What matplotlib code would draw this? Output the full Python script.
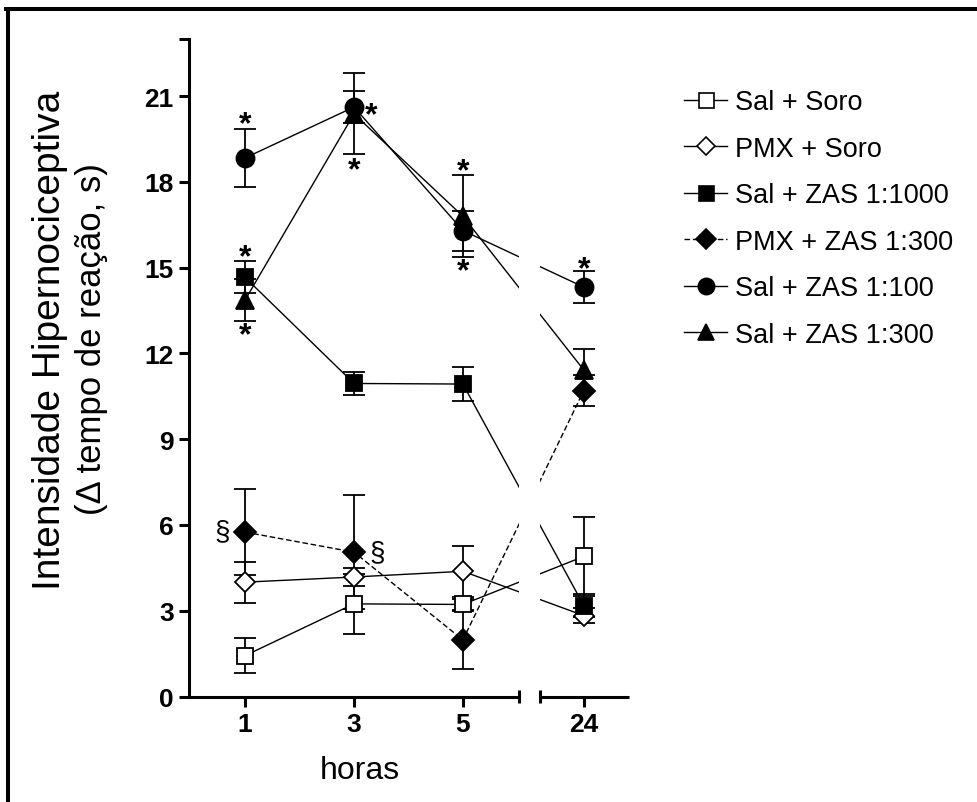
import matplotlib
matplotlib.use("Agg")
import matplotlib.pyplot as plt
from matplotlib.lines import Line2D

plt.rcParams['font.family'] = ['Liberation Sans', 'DejaVu Sans']

# data
hours = [1, 3, 5, 24]
labels = ["Sal + Soro", "PMX + Soro", "Sal + ZAS 1:1000",
          "PMX + ZAS 1:300", "Sal + ZAS 1:100", "Sal + ZAS 1:300"]
sal_soro = [1.43, 3.24, 3.22, 4.90]
sal_soro_err = [0.60, 1.04, 0.20, 1.38]
pmx_soro = [4.00, 4.18, 4.38, 2.83]
pmx_soro_err = [0.72, 0.30, 0.90, 0.25]
sal_zas1000 = [14.66, 10.95, 10.93, 3.18]
sal_zas1000_err = [0.56, 0.41, 0.60, 0.40]
pmx_zas300 = [5.75, 5.05, 1.98, 10.70]
pmx_zas300_err = [1.50, 2.00, 1.02, 0.55]
sal_zas100 = [18.84, 20.62, 16.30, 14.32]
sal_zas100_err = [1.02, 0.56, 0.70, 0.57]
sal_zas300 = [13.87, 20.38, 16.80, 11.42]
sal_zas300_err = [0.72, 1.42, 1.43, 0.75]

# significance marks: (hour, value)
stars = [(1, 20.18), (1, 15.51), (1, 12.78), (3.32, 20.5), (3, 18.55),
         (5, 18.51), (5, 15.01), (24, 15.1)]
sections = [(0.58, 5.77), (3.42, 5.05), (5.37, 1.9)]

# broken x axis: 24 h is drawn just after the gap
X24 = 7.22
GAP = (6.03, 6.41)
XMIN, XMAX = -0.03, 8.05


def pos(h):
    return h if h <= 5 else X24 + (h - 24)


xs = [pos(h) for h in hours]

fig = plt.figure(figsize=(9.77, 8.03), dpi=100)
ax = fig.add_axes([189 / 977, 1 - 697.5 / 803, 440 / 977, 657.5 / 803])

series = [
    (sal_soro, sal_soro_err, 's', 'white', '-', 12),
    (pmx_soro, pmx_soro_err, 'D', 'white', '-', 10),
    (sal_zas1000, sal_zas1000_err, 's', 'black', '-', 12),
    (pmx_zas300, pmx_zas300_err, 'D', 'black', (0, (4, 2)), 11),
    (sal_zas100, sal_zas100_err, 'o', 'black', '-', 13),
    (sal_zas300, sal_zas300_err, '^', 'black', '-', 13),
]
handles = []
for (vals, err, mk, fc, ls, ms), lab in zip(series, labels):
    ax.errorbar(xs, vals, yerr=err, marker=mk, mfc=fc, mec='black', ms=ms,
                mew=1.3, color='black', lw=1.0, ls=ls, elinewidth=1.3,
                capsize=8, capthick=1.3, zorder=3)
    handles.append(Line2D([], [], marker=mk, mfc=fc, mec='black', ms=ms * 0.9,
                          mew=1.2, color='black', lw=1.0, ls=ls))

# "*" sits high in its text box, so nudge it down a little
for h, v in stars:
    ax.text(pos(h), v - 0.15, "*", ha='center', va='center',
            fontsize=23, fontweight='bold', zorder=4)
for h, v in sections:
    ax.text(pos(h), v, "§", ha='center', va='center', fontsize=20, zorder=4)

# blank out the break between 5 and 24 h
ax.axvspan(GAP[0], GAP[1], color='white', zorder=5, lw=0)

ax.set_xlim(XMIN, XMAX)
ax.set_ylim(0, 23)
for side in ['top', 'right', 'bottom']:
    ax.spines[side].set_visible(False)
ax.spines['left'].set_linewidth(2.2)
ax.spines['left'].set_zorder(6)

# two pieces of the x axis with end marks
for x0, x1 in [(XMIN, GAP[0]), (GAP[1], XMAX)]:
    ax.plot([x0, x1], [0, 0], color='black', lw=2.2, clip_on=False, zorder=6,
            solid_capstyle='butt')
for xe in GAP:
    ax.plot([xe, xe], [-0.22, 0.22], color='black', lw=2.2, clip_on=False,
            zorder=6, solid_capstyle='butt')

ax.set_xticks(xs)
ax.set_xticklabels([str(h) for h in hours])
ax.set_yticks(range(0, 22, 3))
ax.set_yticks([23], minor=True)
ax.tick_params(axis='both', which='both', direction='out', length=7, width=2.2,
               labelsize=19, pad=4)
for t in ax.get_xticklabels() + ax.get_yticklabels():
    t.set_fontweight('bold')

ax.set_xlabel('horas', fontsize=23, x=(360 - 189) / 440, labelpad=14)
fig.text(50 / 977, 1 - 340 / 803, 'Intensidade Hipernociceptiva',
         rotation=90, ha='center', va='center', fontsize=28)
fig.text(92 / 977, 1 - 339 / 803, '(\u0394 tempo de reação, s)',
         rotation=90, ha='center', va='center', fontsize=25)

fig.legend(handles, labels, loc='upper left',
           bbox_to_anchor=(684 / 977, 1 - 90 / 803), frameon=False,
           fontsize=19.5, handlelength=1.6, handletextpad=0.3, labelspacing=0.76,
           borderpad=0, borderaxespad=0)

# outer frame (left and top edges visible)
fig.add_artist(Line2D([8 / 977, 8 / 977], [0, 1 - 9.5 / 803], color='black',
                      lw=2.9, transform=fig.transFigure))
fig.add_artist(Line2D([6 / 977, 1], [1 - 9.5 / 803, 1 - 9.5 / 803],
                      color='black', lw=2.9, transform=fig.transFigure))

fig.savefig('out.png', dpi=100)
